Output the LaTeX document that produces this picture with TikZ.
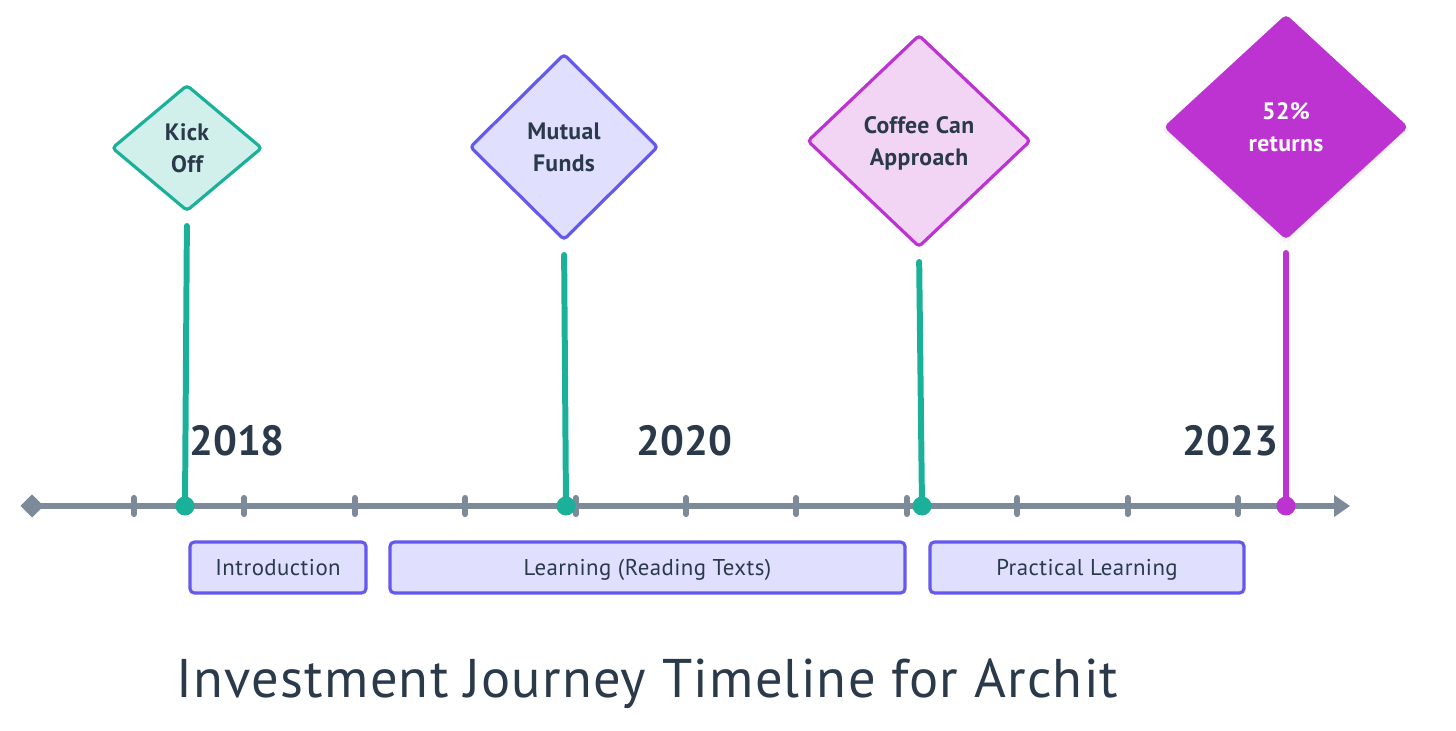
\documentclass[tikz,border=0pt]{standalone}
\usepackage{fontspec}
\setmainfont{PT Sans}
\newfontfamily\tightspaced[LetterSpace=1.5]{PT Sans}
\newfontfamily\widespaced[LetterSpace=2]{PT Sans}
\newfontfamily\titlespaced[LetterSpace=2.3]{PT Sans}
\usepackage{tikz}
\usetikzlibrary{arrows.meta,shapes.geometric,shadows,positioning}

\definecolor{ink}{HTML}{2A3A4A}
\definecolor{axisgray}{HTML}{7C8A9A}
\definecolor{teal}{HTML}{1AB09A}
\definecolor{tealfill}{HTML}{D1F0EC}
\definecolor{indigo}{HTML}{6558EE}
\definecolor{indigofill}{HTML}{E0DFFD}
\definecolor{violet}{HTML}{BC33D1}
\definecolor{violetfill}{HTML}{F2D5F5}

\begin{document}
\begin{tikzpicture}
\tikzstyle{milestone} = [diamond,draw,line width=1.8pt,rounded corners=2pt,inner sep=0pt,outer sep=0pt,align=center,text=ink,font=\fontsize{13.5}{18.5}\tightspaced\bfseries];%
\tikzstyle{phase} = [rectangle,draw=indigo,fill=indigofill,line width=1.8pt,rounded corners=2.5pt,minimum height=1.02cm,inner sep=0pt,text height=9.5pt,text depth=0pt,text=ink,font=\fontsize{13}{16}\widespaced];%
\tikzstyle{year} = [text=ink,font=\fontsize{24}{26}\selectfont\bfseries];%
\tikzstyle{dot} = [circle,minimum size=0.38cm,inner sep=0pt,outer sep=0pt];%
\tikzstyle{stem} = [line width=3.4pt,line cap=round,shorten <=0.31cm];%
\tikzstyle{tick} = [axisgray,line width=3.5pt,line cap=round];%

\useasboundingbox (0,0) rectangle (29.12,14.6);

% time axis
\node at (0.64,4.48) [diamond,fill=axisgray,minimum size=0.46cm,inner sep=0pt,outer sep=0pt] (axisstart) {};
\coordinate (axisend) at (27.0,4.48);
\path (axisstart) edge[-{Triangle[length=0.32cm,width=0.42cm]},axisgray,line width=3.2pt,shorten <=-2pt] (axisend);
\foreach \i in {0,...,10} {
  \draw[tick] (2.68+2.208*\i,4.32) -- (2.68+2.208*\i,4.64);
}

% milestones
\node at (3.74,11.64) [milestone,fill=tealfill,draw=teal,minimum width=2.98cm,minimum height=2.5cm] (kick) {Kick\\Off};
\node at (11.28,11.66) [milestone,fill=indigofill,draw=indigo,minimum width=3.74cm,minimum height=3.7cm,text depth=-2pt] (funds) {Mutual\\Funds};
\node at (18.38,11.78) [milestone,fill=violetfill,draw=violet,minimum width=4.44cm,minimum height=4.22cm,text depth=0pt] (coffee) {Coffee Can\\Approach};
\node at (25.72,12.06) [milestone,fill=violet,draw=violet,text=white,minimum width=4.8cm,minimum height=4.42cm,text depth=-4pt,general shadow={fill=black,opacity=0.04,shadow scale=1.03,shadow yshift=-0.06cm},general shadow={fill=black,opacity=0.05,shadow scale=1.01,shadow yshift=-0.04cm}] (returns) {52\%\\returns};

\node at (3.70,4.48) [dot,fill=teal] (kickdot) {};
\node at (11.32,4.48) [dot,fill=teal] (fundsdot) {};
\node at (18.44,4.48) [dot,fill=teal] (coffeedot) {};
\node at (25.72,4.48) [dot,fill=violet] (returnsdot) {};

\path (kick.south)  edge[stem,teal] (kickdot) ;
\path (funds.south)  edge[stem,teal] (fundsdot) ;
\path (coffee.south)  edge[stem,teal] (coffeedot) ;
\path (returns.south)  edge[stem,violet] (returnsdot) ;

% years
\node at (4.74,5.78) [year] (y2018) {2018};
\node at (13.69,5.78) [year] (y2020) {2020};
\node at (24.61,5.78) [year] (y2023) {2023};

% phases
\node at (5.56,3.25) [phase,minimum width=3.52cm] (intro) {Introduction};
\node at (12.95,3.25) [phase,minimum width=10.3cm] (learning) {Learning (Reading Texts)};
\node at (21.74,3.25) [phase,minimum width=6.28cm] (practical) {Practical Learning};

\node at (12.95,0.93) [text=ink,font=\fontsize{31}{34}\titlespaced] (title) {Investment Journey Timeline for Archit};

\end{tikzpicture}
\end{document}
